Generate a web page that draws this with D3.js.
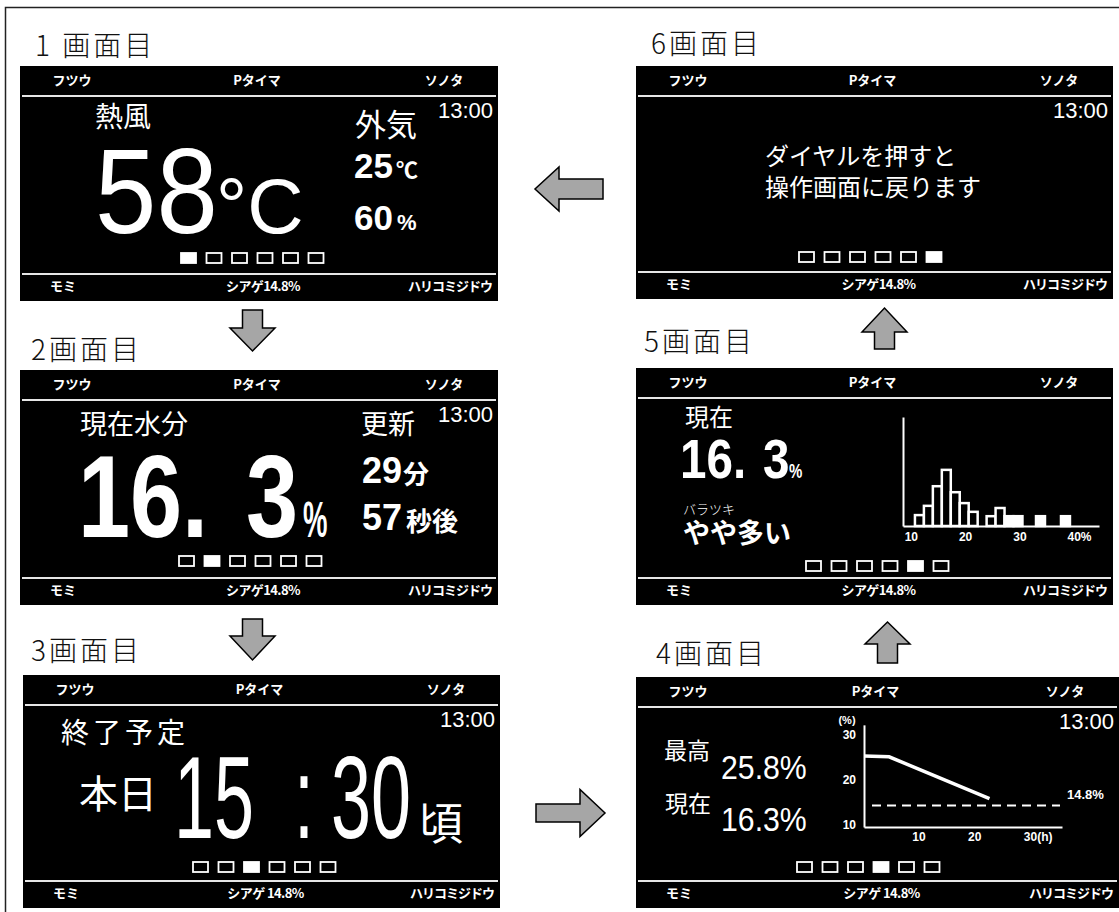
<!DOCTYPE html>
<html lang="ja">
<head>
  <meta charset="UTF-8">
  <title>画面遷移</title>
</head>
<body>
<style>
  * {
    padding: 0;
    margin: 0;
  }
  body {
    background: #fff;
  }
  svg {
    display: block;
  }
</style>

<div id="app"></div>

<script src="https://cdn.jsdelivr.net/npm/d3@7/dist/d3.min.js"></script>
<script>
  // ---- data ----
  const screenTitles = ["1 画面目", "2画面目", "3画面目", "4画面目", "5画面目", "6画面目"];
  const headerLabels = ["フツウ", "Pタイマ", "ソノタ"];
  const footerLeft = "モミ";
  const footerCenter = ["シアゲ14.8%", "シアゲ14.8%", "シアゲ 14.8%", "シアゲ 14.8%", "シアゲ14.8%", "シアゲ14.8%"];
  const footerRight = "ハリコミジドウ";
  const clock = "13:00";

  const hotAir = ["熱風", "58"];
  const outside = ["外気", "25", "60"];
  const moisture = ["16.", "3"];
  const update = ["更新", "29", "57"];
  const finish = ["終了予定", "本日", "15", ":", "30", "頃"];
  const message = ["ダイヤルを押すと", "操作画面に戻ります"];

  // 4画面目: moisture trend
  const trendHours = [0, 4.5, 22.5];
  const trendMoisture = [25.8, 25.6, 16.3];
  const trendTarget = 14.8;
  const trendYTicks = [10, 20, 30];
  const trendXTicks = [10, 20, 30];
  const peakText = ["最高", "25.8%"];
  const nowText = ["現在", "16.3%"];

  // 5画面目: histogram of moisture
  const histBinStart = [10.7, 12.35, 14.0, 15.65, 17.3, 18.95, 20.6, 23.9, 25.55, 27.2, 28.85, 33.0, 37.6];
  const histCounts = [2, 3.7, 7.3, 10.3, 6.2, 4.2, 2.6, 1.8, 3.3, 1.8, 1.8, 1.8, 1.8];
  const histTicks = [10, 20, 30, 40];
  const binWidth = 1.65;

  // ---- layout ----
  const W = 1119, H = 912;
  const CJK = "'Noto Sans CJK JP', 'Noto Sans', sans-serif";
  const LAT = "'Liberation Sans', Arial, sans-serif";

  const screens = [
    {x: 20, y: 66, w: 478, h: 235, dx: 161, dy: 187, tx: 35, ty: 56, clock: true},
    {x: 20, y: 370, w: 478, h: 235, dx: 159, dy: 186, tx: 31, ty: 360, clock: true},
    {x: 23, y: 675, w: 477, h: 233, dx: 170, dy: 187, tx: 31, ty: 661, clock: true},
    {x: 636, y: 677, w: 483, h: 231, dx: 161, dy: 185, tx: 656, ty: 664, clock: true},
    {x: 636, y: 368, w: 477, h: 237, dx: 170, dy: 193, tx: 644, ty: 352, clock: false},
    {x: 636, y: 66, w: 477, h: 233, dx: 163, dy: 186, tx: 651, ty: 54, clock: true}
  ];

  const svg = d3.select("#app").append("svg").attr("width", W).attr("height", H);

  function label(parent, str, x, y, size, o = {}) {
    const t = parent.append("text")
      .attr("font-family", o.family || CJK)
      .attr("font-size", size)
      .attr("font-weight", o.weight || 400)
      .attr("fill", o.fill || "#fff")
      .attr("text-anchor", o.anchor || "start")
      .text(str);
    if (o.ls) t.attr("letter-spacing", o.ls);
    if (o.sx) t.attr("transform", `translate(${x},${y}) scale(${o.sx},1)`);
    else t.attr("x", x).attr("y", y);
    return t;
  }

  // outer frame
  svg.append("rect").attr("x", 5.5).attr("y", 7.5).attr("width", 1130).attr("height", 920)
    .attr("fill", "none").attr("stroke", "#222").attr("stroke-width", 1.5);

  // block arrows
  function arrow(cx, cy, angle, len, head, hw, bw) {
    const L = len / 2;
    const pts = [[-L, -bw / 2], [L - head, -bw / 2], [L - head, -hw / 2], [L, 0],
      [L - head, hw / 2], [L - head, bw / 2], [-L, bw / 2]];
    svg.append("polygon")
      .attr("points", pts.map(p => p.join(",")).join(" "))
      .attr("transform", `translate(${cx},${cy}) rotate(${angle})`)
      .attr("fill", "#a6a6a6").attr("stroke", "#000").attr("stroke-width", 1.5);
  }
  arrow(569, 189, 180, 68, 24, 44, 20);
  arrow(252.5, 330.5, 90, 41, 23, 45, 20);
  arrow(252.5, 639.5, 90, 41, 24, 45, 20);
  arrow(570.5, 813, 0, 69, 25, 47, 18);
  arrow(887.5, 642.5, -90, 41, 22, 45, 20);
  arrow(884.5, 328.5, -90, 41, 24, 45, 20);

  // screen frames
  screens.forEach((s, i) => {
    label(svg, screenTitles[i], s.tx, s.ty, 28, {fill: "#111", weight: 300, ls: 3});

    const g = svg.append("g").attr("transform", `translate(${s.x},${s.y})`);
    g.append("rect").attr("width", s.w).attr("height", s.h).attr("fill", "#000");
    g.append("line").attr("x1", 2).attr("x2", s.w - 2).attr("y1", 30).attr("y2", 30)
      .attr("stroke", "#e6e6e6").attr("stroke-width", 2);
    g.append("line").attr("x1", 2).attr("x2", s.w - 2).attr("y1", s.h - 27).attr("y2", s.h - 27)
      .attr("stroke", "#e6e6e6").attr("stroke-width", 2);

    label(g, headerLabels[0], 52, 19, 13, {anchor: "middle", weight: 700});
    label(g, headerLabels[1], s.w / 2 - 2, 19, 13, {anchor: "middle", weight: 700});
    label(g, headerLabels[2], s.w - 54, 19, 13, {anchor: "middle", weight: 700});

    label(g, footerLeft, 30, s.h - 10, 13, {weight: 700});
    label(g, footerCenter[i], s.w / 2 + 4, s.h - 10, 13, {anchor: "middle", weight: 700, ls: -0.6});
    label(g, footerRight, s.w - 6, s.h - 10, 13, {anchor: "end", weight: 700, ls: -1});

    if (s.clock) label(g, clock, s.w - 5, 52, 22, {anchor: "end", family: LAT});

    d3.range(6).forEach(k => {
      g.append("rect").attr("x", s.dx + k * 25.5).attr("y", s.dy).attr("width", 15).attr("height", 10)
        .attr("fill", k === i ? "#fff" : "#000").attr("stroke", "#fff").attr("stroke-width", 1.8);
    });
  });

  // 1画面目
  label(svg, hotAir[0], 95, 127, 28);
  label(svg, hotAir[1], 95, 233, 120, {family: LAT, sx: 0.92});
  label(svg, "°C", 216, 233, 78, {family: LAT});
  label(svg, outside[0], 355, 136, 31);
  label(svg, outside[1], 354, 178, 35, {family: LAT, weight: 700});
  label(svg, "℃", 396, 178, 22, {weight: 700});
  label(svg, outside[2], 354, 230, 35, {family: LAT, weight: 700});
  label(svg, "%", 397, 230, 22, {family: LAT, weight: 700});

  // 2画面目
  label(svg, "現在水分", 80, 434, 27);
  label(svg, moisture[0], 78, 537, 117, {family: LAT, weight: 700, sx: 0.8});
  label(svg, moisture[1], 246, 537, 117, {family: LAT, weight: 700, sx: 0.8});
  label(svg, "%", 303, 537, 50, {family: LAT, weight: 700, sx: 0.55});
  label(svg, update[0], 361, 434, 27);
  label(svg, update[1], 362, 483, 36, {family: LAT, weight: 700});
  label(svg, "分", 403, 484, 26, {weight: 700});
  label(svg, update[2], 362, 530, 36, {family: LAT, weight: 700});
  label(svg, "秒後", 406, 531, 26, {weight: 700});

  // 3画面目
  label(svg, finish[0], 61, 743, 28, {ls: 4});
  label(svg, finish[1], 79, 808, 39);
  label(svg, finish[2], 174, 838, 116, {family: LAT, sx: 0.62});
  label(svg, finish[3], 294, 838, 116, {family: LAT, sx: 0.62});
  label(svg, finish[4], 331, 838, 116, {family: LAT, sx: 0.62});
  label(svg, finish[5], 419, 840, 44);

  // 4画面目
  label(svg, peakText[0], 664, 759, 23);
  label(svg, peakText[1], 721, 779, 34, {family: LAT, sx: 0.89});
  label(svg, nowText[0], 665, 812, 23);
  label(svg, nowText[1], 721, 831, 34, {family: LAT, sx: 0.89});

  const tx = d3.scaleLinear().domain([0, 35.5]).range([864, 1062]);
  const ty = d3.scaleLinear().domain([10, 30]).range([827, 737]);
  const yTop = 32.7;

  svg.append("line").attr("x1", tx(0) + 8).attr("x2", tx(35.5) - 2)
    .attr("y1", ty(trendTarget)).attr("y2", ty(trendTarget))
    .attr("stroke", "#fff").attr("stroke-width", 2).attr("stroke-dasharray", "9,6");

  svg.append("path")
    .datum(trendHours.map((h, i) => [h, trendMoisture[i]]))
    .attr("d", d3.line().x(d => tx(d[0])).y(d => ty(d[1])))
    .attr("fill", "none").attr("stroke", "#fff").attr("stroke-width", 3.5);

  const tyAxis = d3.scaleLinear().domain([10, yTop]).range([ty(10), ty(yTop)]);
  const yAx = svg.append("g").attr("transform", `translate(${tx(0)},0)`)
    .call(d3.axisLeft(tyAxis).tickValues(trendYTicks).tickSize(0).tickPadding(8));
  const xAx = svg.append("g").attr("transform", `translate(0,${ty(10)})`)
    .call(d3.axisBottom(tx).tickValues(trendXTicks).tickSize(0).tickPadding(5)
      .tickFormat(d => d === 30 ? "30(h)" : d));
  [yAx, xAx].forEach(a => {
    a.select(".domain").attr("stroke", "#fff").attr("stroke-width", 2);
    a.selectAll("text").attr("fill", "#fff").attr("font-family", LAT)
      .attr("font-size", 12).attr("font-weight", 700);
  });
  yAx.selectAll("text").attr("dy", "0.15em");
  xAx.selectAll("text").attr("text-anchor", "start").attr("x", -8);

  label(svg, "(%)", 847, 724, 11, {family: LAT, weight: 700, anchor: "middle"});
  label(svg, trendTarget + "%", 1067, 799, 13, {family: LAT, weight: 700});

  // 5画面目
  label(svg, nowText[0], 685, 426, 24);
  label(svg, moisture[0], 680, 478, 56, {family: LAT, weight: 700, sx: 0.85});
  label(svg, moisture[1], 763, 478, 56, {family: LAT, weight: 700, sx: 0.85});
  label(svg, "%", 789, 478, 20, {family: LAT, weight: 700, sx: 0.75});
  label(svg, "バラツキ", 683, 514, 13, {weight: 300});
  label(svg, "やや多い", 683, 543, 27, {weight: 700});

  const hx = d3.scaleLinear().domain([8.5, 44.6]).range([903, 1099]);
  const hy = d3.scaleLinear().domain([0, 20]).range([526, 417]);

  svg.selectAll("rect.bin").data(histBinStart).enter().append("rect")
    .attr("class", "bin")
    .attr("x", d => hx(d))
    .attr("width", d => hx(d + binWidth) - hx(d))
    .attr("y", (d, i) => hy(histCounts[i]))
    .attr("height", (d, i) => hy(0) - hy(histCounts[i]))
    .attr("fill", d => d >= 27 ? "#fff" : "#000")
    .attr("stroke", "#fff").attr("stroke-width", 2.5);

  const hyAx = svg.append("g").attr("transform", `translate(${hx(8.5)},0)`)
    .call(d3.axisLeft(hy).tickValues([]).tickSize(0));
  const hxAx = svg.append("g").attr("transform", `translate(0,${hy(0)})`)
    .call(d3.axisBottom(hx).tickValues(histTicks).tickSize(0).tickPadding(6)
      .tickFormat(d => d === 40 ? "40%" : d));
  [hyAx, hxAx].forEach(a => {
    a.select(".domain").attr("stroke", "#fff").attr("stroke-width", 2);
    a.selectAll("text").attr("fill", "#fff").attr("font-family", LAT)
      .attr("font-size", 12).attr("font-weight", 700);
  });
  hxAx.selectAll("text").attr("text-anchor", "start").attr("x", -7);

  // 6画面目
  label(svg, message[0], 765, 165, 24);
  label(svg, message[1], 765, 196, 24);
</script>
</body>
</html>
